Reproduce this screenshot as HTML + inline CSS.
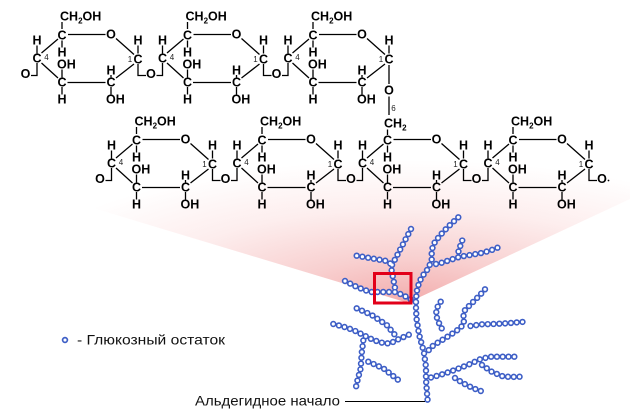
<!DOCTYPE html>
<html><head><meta charset="utf-8">
<style>
html,body{margin:0;padding:0;background:#fff;}
svg{display:block;}
.t text{font-family:"Liberation Sans",Arial,sans-serif;font-weight:bold;font-size:12.5px;text-anchor:middle;fill:#000;}
.t text.st{text-anchor:start;}
.t text.n{font-size:8px;font-weight:normal;fill:#222;}
.t path{stroke:#000;stroke-width:1.3;fill:none;}
.lab{font-family:"Liberation Sans",Arial,sans-serif;font-size:14px;fill:#111;}
</style></head>
<body>
<svg width="630" height="420" viewBox="0 0 630 420" xmlns="http://www.w3.org/2000/svg">
<defs>
<radialGradient id="pg" gradientUnits="userSpaceOnUse" cx="0" cy="0" r="1" gradientTransform="translate(408 300) scale(420 140)">
<stop offset="0" stop-color="#f3aeae"/>
<stop offset="0.3" stop-color="#f8d0d0"/>
<stop offset="0.65" stop-color="#fdeeee"/>
<stop offset="1" stop-color="#ffffff"/>
</radialGradient>
</defs>
<rect width="630" height="420" fill="#fff"/>
<polygon points="0,100 0,180 405,302 420,297 630,199 630,100" fill="url(#pg)"/>

<g class="t">
<!-- Row 1 unit 1 -->
<g transform="translate(0,0)">
<path d="M62 22V29M62 40.5V47.5M68 34.5H105.5M116 38.5L134 54.5M138 45.5V53.5M134 64L116 78M111 75V77.5M111 87V94.5M67.5 82.5H105.5M62 69.5V77.5M62 87V94.5M58 78L41.5 63M41.5 53L58 39M37 45.5V53.5M37 63V75.5H31M138 64V75.5H146"/>
<text class="st" x="60" y="20.5">CH<tspan font-size="8" dy="3">2</tspan><tspan dy="-3">OH</tspan></text>
<text x="62" y="39.5">C</text><text x="62" y="56.5">H</text><text x="111" y="38.5">O</text><text x="138" y="63.5">C</text><text x="138" y="44.5">H</text><text x="111" y="86.5">C</text><text x="111" y="74.5">H</text><text class="st" x="106" y="103.5">OH</text><text x="62" y="86.5">C</text><text class="st" x="57" y="68.5">OH</text><text x="62" y="103.5">H</text><text x="37" y="62.5">C</text><text x="37" y="44.5">H</text><text class="n" x="46.5" y="60">4</text><text class="n" x="130" y="62">1</text>
<text x="25.5" y="78">O</text><text x="151" y="78">O</text>
</g>
<!-- Row 1 unit 2 -->
<g transform="translate(125.5,0)">
<path d="M62 22V29M62 40.5V47.5M68 34.5H105.5M116 38.5L134 54.5M138 45.5V53.5M134 64L116 78M111 75V77.5M111 87V94.5M67.5 82.5H105.5M62 69.5V77.5M62 87V94.5M58 78L41.5 63M41.5 53L58 39M37 45.5V53.5M37 63V75.5H31M138 64V75.5H146"/>
<text class="st" x="60" y="20.5">CH<tspan font-size="8" dy="3">2</tspan><tspan dy="-3">OH</tspan></text>
<text x="62" y="39.5">C</text><text x="62" y="56.5">H</text><text x="111" y="38.5">O</text><text x="138" y="63.5">C</text><text x="138" y="44.5">H</text><text x="111" y="86.5">C</text><text x="111" y="74.5">H</text><text class="st" x="106" y="103.5">OH</text><text x="62" y="86.5">C</text><text class="st" x="57" y="68.5">OH</text><text x="62" y="103.5">H</text><text x="37" y="62.5">C</text><text x="37" y="44.5">H</text><text class="n" x="46.5" y="60">4</text><text class="n" x="130" y="62">1</text>
<text x="151" y="78">O</text>
</g>
<!-- Row 1 unit 3 -->
<g transform="translate(251,0)">
<path d="M62 22V29M62 40.5V47.5M68 34.5H105.5M116 38.5L134 54.5M138 45.5V53.5M134 64L116 78M111 75V77.5M111 87V94.5M67.5 82.5H105.5M62 69.5V77.5M62 87V94.5M58 78L41.5 63M41.5 53L58 39M37 45.5V53.5M37 63V75.5H31M138 65V84M138 96.5V115"/>
<text class="st" x="60" y="20.5">CH<tspan font-size="8" dy="3">2</tspan><tspan dy="-3">OH</tspan></text>
<text x="62" y="39.5">C</text><text x="62" y="56.5">H</text><text x="111" y="38.5">O</text><text x="138" y="63.5">C</text><text x="138" y="44.5">H</text><text x="111" y="86.5">C</text><text x="111" y="74.5">H</text><text class="st" x="106" y="103.5">OH</text><text x="62" y="86.5">C</text><text class="st" x="57" y="68.5">OH</text><text x="62" y="103.5">H</text><text x="37" y="62.5">C</text><text x="37" y="44.5">H</text><text class="n" x="46.5" y="60">4</text><text class="n" x="130" y="62">1</text>
<text x="138" y="94.5">O</text><text class="n" x="142.5" y="111">6</text>
</g>

<!-- Row 2 unit 1 -->
<g transform="translate(74.5,105)">
<path d="M62 22V29M62 40.5V47.5M68 34.5H105.5M116 38.5L134 54.5M138 45.5V53.5M134 64L116 78M111 75V77.5M111 87V94.5M67.5 82.5H105.5M62 69.5V77.5M62 87V94.5M58 78L41.5 63M41.5 53L58 39M37 45.5V53.5M37 63V75.5H31M138 64V75.5H146"/>
<text class="st" x="60" y="20.5">CH<tspan font-size="8" dy="3">2</tspan><tspan dy="-3">OH</tspan></text>
<text x="62" y="39.5">C</text><text x="62" y="56.5">H</text><text x="111" y="38.5">O</text><text x="138" y="63.5">C</text><text x="138" y="44.5">H</text><text x="111" y="86.5">C</text><text x="111" y="74.5">H</text><text class="st" x="106" y="103.5">OH</text><text x="62" y="86.5">C</text><text class="st" x="57" y="68.5">OH</text><text x="62" y="103.5">H</text><text x="37" y="62.5">C</text><text x="37" y="44.5">H</text><text class="n" x="46.5" y="60">4</text><text class="n" x="130" y="62">1</text>
<text x="25.5" y="78">O</text><text x="151" y="78">O</text>
</g>
<!-- Row 2 unit 2 -->
<g transform="translate(200,105)">
<path d="M62 22V29M62 40.5V47.5M68 34.5H105.5M116 38.5L134 54.5M138 45.5V53.5M134 64L116 78M111 75V77.5M111 87V94.5M67.5 82.5H105.5M62 69.5V77.5M62 87V94.5M58 78L41.5 63M41.5 53L58 39M37 45.5V53.5M37 63V75.5H31M138 64V75.5H146"/>
<text class="st" x="60" y="20.5">CH<tspan font-size="8" dy="3">2</tspan><tspan dy="-3">OH</tspan></text>
<text x="62" y="39.5">C</text><text x="62" y="56.5">H</text><text x="111" y="38.5">O</text><text x="138" y="63.5">C</text><text x="138" y="44.5">H</text><text x="111" y="86.5">C</text><text x="111" y="74.5">H</text><text class="st" x="106" y="103.5">OH</text><text x="62" y="86.5">C</text><text class="st" x="57" y="68.5">OH</text><text x="62" y="103.5">H</text><text x="37" y="62.5">C</text><text x="37" y="44.5">H</text><text class="n" x="46.5" y="60">4</text><text class="n" x="130" y="62">1</text>
<text x="151" y="78">O</text>
</g>
<!-- Row 2 unit 3 (CH2 branch) -->
<g transform="translate(325.5,105)">
<path d="M62 24.5V30M62 40.5V47.5M68 34.5H105.5M116 38.5L134 54.5M138 45.5V53.5M134 64L116 78M111 75V77.5M111 87V94.5M67.5 82.5H105.5M62 69.5V77.5M62 87V94.5M58 78L41.5 63M41.5 53L58 39M37 45.5V53.5M37 63V75.5H31M138 64V75.5H146"/>
<text class="st" x="58.5" y="22.5">CH<tspan font-size="8" dy="3">2</tspan></text>
<text x="62" y="39.5">C</text><text x="62" y="56.5">H</text><text x="111" y="38.5">O</text><text x="138" y="63.5">C</text><text x="138" y="44.5">H</text><text x="111" y="86.5">C</text><text x="111" y="74.5">H</text><text class="st" x="106" y="103.5">OH</text><text x="62" y="86.5">C</text><text class="st" x="57" y="68.5">OH</text><text x="62" y="103.5">H</text><text x="37" y="62.5">C</text><text x="37" y="44.5">H</text><text class="n" x="46.5" y="60">4</text><text class="n" x="130" y="62">1</text>
<text x="151" y="78">O</text>
</g>
<!-- Row 2 unit 4 -->
<g transform="translate(451,105)">
<path d="M62 22V29M62 40.5V47.5M68 34.5H105.5M116 38.5L134 54.5M138 45.5V53.5M134 64L116 78M111 75V77.5M111 87V94.5M67.5 82.5H105.5M62 69.5V77.5M62 87V94.5M58 78L41.5 63M41.5 53L58 39M37 45.5V53.5M37 63V75.5H31M138 64V75.5H146"/>
<text class="st" x="60" y="20.5">CH<tspan font-size="8" dy="3">2</tspan><tspan dy="-3">OH</tspan></text>
<text x="62" y="39.5">C</text><text x="62" y="56.5">H</text><text x="111" y="38.5">O</text><text x="138" y="63.5">C</text><text x="138" y="44.5">H</text><text x="111" y="86.5">C</text><text x="111" y="74.5">H</text><text class="st" x="106" y="103.5">OH</text><text x="62" y="86.5">C</text><text class="st" x="57" y="68.5">OH</text><text x="62" y="103.5">H</text><text x="37" y="62.5">C</text><text x="37" y="44.5">H</text><text class="n" x="46.5" y="60">4</text><text class="n" x="130" y="62">1</text>
<text x="151" y="78">O</text>
<circle cx="157.5" cy="75.5" r="0.9" fill="#000"/>
</g>
</g>

<!-- Glycogen tree -->
<g fill="none" stroke-linecap="round" stroke-linejoin="round" stroke-dasharray="0 5.8">
<g stroke="#3d5ec6" stroke-width="6.4">
<path d="M411 229L391 267L395 288L396 292"/>
<path d="M356.7 255.7L386.7 261L391 264"/>
<path d="M345 281L357 287L370 292L395 292L403 295L410 299L416 302"/>
<path d="M458.3 217.3L451.7 223.3L443.3 231.7L435 241.7L431.7 250L431.7 260L428.3 268.3L423.3 275L419.3 281.7L416.7 291.7L416 300L416 310L416.7 320L418.3 330L420 338.3L422 345L424 353L426 367L426 380L427 393L428 405"/>
<path d="M436 264L440 263.3L450 260L460 256.7L470 255L480 253.3L490 250.7L500 246.7"/>
<path d="M458.5 251.5L460 246.7L462.7 239.3"/>
<path d="M485 289.3L480 295L475 300L470 305L465 310L463.3 316.7L464 323.3L460 328.3L451.7 334L445 338.3L436.7 343.3L431.7 346.7L427.3 351.7"/>
<path d="M470.5 326L481.7 324.3L493.3 324L506.7 323.3L525 321.7"/>
<path d="M440.7 301.7L436.7 308.3L436 315L438.3 321.7L441.7 328.3L444 333"/>
<path d="M431 377.5L440 375L450 371.7L460 368L470 364L480 359.3L490 356.7L520 356.7"/>
<path d="M482 365L491.7 371.7L501.7 376L510 377L520 376.7"/>
<path d="M455 378L463.3 383.3L473.3 388.3L482.7 391.7"/>
<path d="M333.3 324L343 326.5L353.3 330L363.3 335L373.3 340L383 343L390 343.5L398.3 339.3L408.3 335L413.5 332"/>
<path d="M356.7 308.3L371.7 315L386.7 325L395 335L397 337.5"/>
<path d="M363.3 340.5L361.7 353.3L360.7 368.3L356.7 383.3L356 387"/>
<path d="M368.3 361.7L383.3 368.3L398.3 380"/>
</g>
<g stroke="#ffffff" stroke-width="3.2">
<path d="M411 229L391 267L395 288L396 292"/>
<path d="M356.7 255.7L386.7 261L391 264"/>
<path d="M345 281L357 287L370 292L395 292L403 295L410 299L416 302"/>
<path d="M458.3 217.3L451.7 223.3L443.3 231.7L435 241.7L431.7 250L431.7 260L428.3 268.3L423.3 275L419.3 281.7L416.7 291.7L416 300L416 310L416.7 320L418.3 330L420 338.3L422 345L424 353L426 367L426 380L427 393L428 405"/>
<path d="M436 264L440 263.3L450 260L460 256.7L470 255L480 253.3L490 250.7L500 246.7"/>
<path d="M458.5 251.5L460 246.7L462.7 239.3"/>
<path d="M485 289.3L480 295L475 300L470 305L465 310L463.3 316.7L464 323.3L460 328.3L451.7 334L445 338.3L436.7 343.3L431.7 346.7L427.3 351.7"/>
<path d="M470.5 326L481.7 324.3L493.3 324L506.7 323.3L525 321.7"/>
<path d="M440.7 301.7L436.7 308.3L436 315L438.3 321.7L441.7 328.3L444 333"/>
<path d="M431 377.5L440 375L450 371.7L460 368L470 364L480 359.3L490 356.7L520 356.7"/>
<path d="M482 365L491.7 371.7L501.7 376L510 377L520 376.7"/>
<path d="M455 378L463.3 383.3L473.3 388.3L482.7 391.7"/>
<path d="M333.3 324L343 326.5L353.3 330L363.3 335L373.3 340L383 343L390 343.5L398.3 339.3L408.3 335L413.5 332"/>
<path d="M356.7 308.3L371.7 315L386.7 325L395 335L397 337.5"/>
<path d="M363.3 340.5L361.7 353.3L360.7 368.3L356.7 383.3L356 387"/>
<path d="M368.3 361.7L383.3 368.3L398.3 380"/>
</g>
</g>

<!-- Red highlight box -->
<rect x="374.5" y="273.5" width="36.5" height="29.5" fill="none" stroke="#e2001a" stroke-width="3"/>

<!-- Legend -->
<circle cx="65" cy="340" r="2.4" fill="#fff" stroke="#3d5ec6" stroke-width="1.7"/>
<text class="lab" x="77" y="344.5" textLength="148" lengthAdjust="spacingAndGlyphs">- Глюкозный остаток</text>

<!-- Bottom label -->
<text class="lab" x="195" y="405.5" textLength="145" lengthAdjust="spacingAndGlyphs">Альдегидное начало</text>
<path d="M345 401.5H425" stroke="#000" stroke-width="1"/>
</svg>
</body></html>
